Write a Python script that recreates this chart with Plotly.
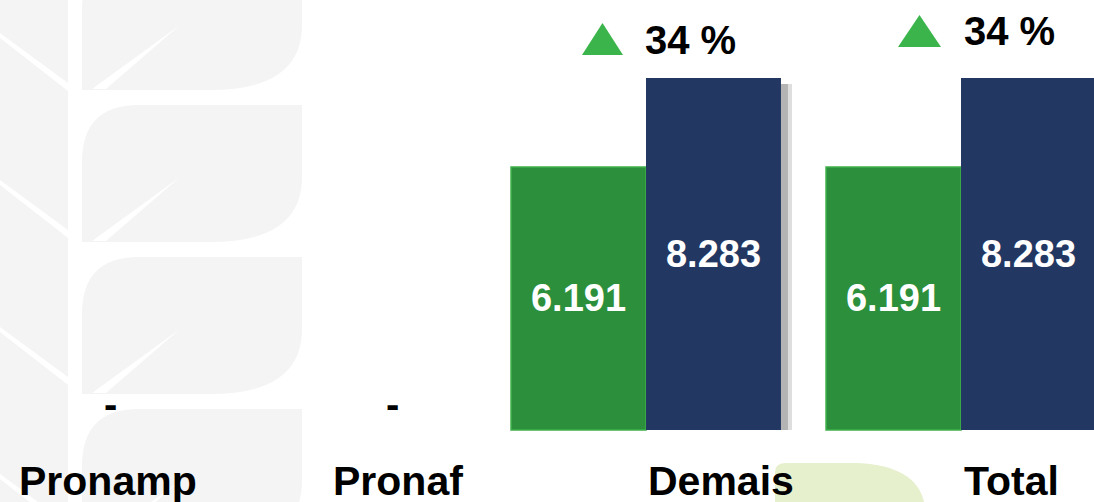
import plotly.graph_objects as go

# ---------------- data ----------------
categories = ["Pronamp", "Pronaf", "Demais", "Total"]
prev_values = [0, 0, 6191, 6191]      # green series
curr_values = [0, 0, 8283, 8283]      # navy series
growth_labels = ["", "", "34 %", "34 %"]
zero_label = "-"

# ---------------- style / layout constants ----------------
W, H = 1094, 502
GREEN = "#2c8f3b"
GREEN_EDGE = "#3fb04b"
NAVY = "#223863"
TRI_GREEN = "#3bb54b"
LEAF_GRAY = "#f4f4f4"
BLOB = "#e6f0cd"
FONT = "Liberation Sans, Arial, sans-serif"

X_RANGE = [-0.0508, 3.4222]
Y_RANGE = [-1694, 10118]
BARGAP = 0.143


def fmt(v):
    return f"{v:,}".replace(",", ".")


def pxx(x):
    return x / W


def pxy(y):
    return 1 - y / H


def path(points_cmds):
    out = []
    for c in points_cmds:
        if isinstance(c, str):
            out.append(c)
        else:
            out.append(f"{pxx(c[0]):.5f},{pxy(c[1]):.5f}")
    return " ".join(out)


fig = go.Figure()
fig.add_trace(go.Bar(
    x=categories, y=prev_values,
    text=[fmt(v) if v else "" for v in prev_values],
    textposition="inside", insidetextanchor="middle", textangle=0,
    textfont=dict(family=FONT, size=38, color="white", weight="bold"),
    marker=dict(color=GREEN, line=dict(color=GREEN_EDGE,
                                       width=[1.5 if v else 0 for v in prev_values])),
    constraintext="none", cliponaxis=False, hoverinfo="skip",
))
fig.add_trace(go.Bar(
    x=categories, y=curr_values,
    text=[fmt(v) if v else "" for v in curr_values],
    textposition="inside", insidetextanchor="middle", textangle=0,
    textfont=dict(family=FONT, size=38, color="white", weight="bold"),
    marker=dict(color=NAVY, line=dict(width=0)),
    constraintext="none", cliponaxis=False, hoverinfo="skip",
))

shapes = []
# background leaf motif (left)
shapes.append(dict(type="rect", xref="paper", yref="paper", x0=0, x1=pxx(68),
                   y0=0, y1=1, fillcolor=LEAF_GRAY, line=dict(width=0), layer="below"))
for k in range(4):
    t = -47 + 152 * k
    shapes.append(dict(type="path", xref="paper", yref="paper", layer="below",
                       fillcolor=LEAF_GRAY, line=dict(width=0),
                       path=path(["M", (82, t + 57), "Q", (82, t), (139, t), "L", (302, t),
                                  "L", (302, t + 72), "Q", (302, t + 137), (210, t + 137),
                                  "L", (82, t + 137), "Z"])))
    # vein of right leaf
    shapes.append(dict(type="path", xref="paper", yref="paper", layer="below",
                       fillcolor="white", line=dict(width=0),
                       path=path(["M", (92, t + 136), "L", (180, t + 72), "L", (106, t + 136), "Z"])))
    # vein of left leaf
    lt = 33 + 147 * k
    shapes.append(dict(type="path", xref="paper", yref="paper", layer="below",
                       fillcolor="white", line=dict(width=0),
                       path=path(["M", (0, lt), "L", (68, lt + 50), "L", (68, lt + 58), "L", (0, lt + 5), "Z"])))
# pale green blob near the bottom
shapes.append(dict(type="path", xref="paper", yref="paper", layer="below",
                   fillcolor=BLOB, line=dict(width=0),
                   path=path(["M", (775, 502), "L", (775, 472), "Q", (775, 463), (786, 463),
                              "L", (858, 463), "Q", (916, 466), (924, 502), "Z"])))

# bar shadow right of the navy bars
half = (1 - BARGAP) / 2
units_per_px = (Y_RANGE[1] - Y_RANGE[0]) / H
for i, v in enumerate(curr_values):
    if v:
        shapes.append(dict(type="rect", xref="x", yref="y", layer="below",
                           x0=i + half, x1=i + half + 7 / 315, y0=0, y1=v - 6 * units_per_px,
                           fillcolor="#b4b4b4", line=dict(width=0)))
        shapes.append(dict(type="rect", xref="x", yref="y", layer="below",
                           x0=i + half + 7 / 315, x1=i + half + 11 / 315, y0=0, y1=v - 6 * units_per_px,
                           fillcolor="#dedede", line=dict(width=0)))

annotations = []
# category labels (separate text boxes in the original)
label_px = [108, 398, 721, 1011]
for name, xp in zip(categories, label_px):
    annotations.append(dict(text=f"<b>{name}</b>", xref="paper", yref="paper",
                            x=pxx(xp), y=pxy(481), xanchor="center", yanchor="middle",
                            showarrow=False, font=dict(family=FONT, size=41, color="black")))
# dash labels for empty categories
dash_px = [110, 392]
for i, (a, b) in enumerate(zip(prev_values, curr_values)):
    if a == 0 and b == 0:
        annotations.append(dict(text=f"<b>{zero_label}</b>", xref="paper", yref="paper",
                                x=pxx(dash_px[i]), y=pxy(404), xanchor="center", yanchor="middle",
                                showarrow=False, font=dict(family=FONT, size=40, color="black")))
# growth markers
growth_pos = {2: (690.5, 39.5, (582, 623, 23, 55)), 3: (1009, 31, (898, 941, 15, 47))}
for i, lab in enumerate(growth_labels):
    if lab:
        tx, ty, (x0, x1, y0, y1) = growth_pos[i]
        annotations.append(dict(text=f"<b>{lab}</b>", xref="paper", yref="paper",
                                x=pxx(tx), y=pxy(ty), xanchor="center", yanchor="middle",
                                showarrow=False, font=dict(family=FONT, size=40, color="black")))
        shapes.append(dict(type="path", xref="paper", yref="paper", fillcolor=TRI_GREEN,
                           line=dict(width=0),
                           path=path(["M", (x0, y1), "L", (x1, y1), "L", ((x0 + x1) / 2, y0), "Z"])))

fig.update_layout(
    width=W, height=H, margin=dict(l=0, r=0, t=0, b=0),
    paper_bgcolor="white", plot_bgcolor="rgba(0,0,0,0)",
    barmode="group", bargap=BARGAP, bargroupgap=0,
    showlegend=False, shapes=shapes, annotations=annotations,
    xaxis=dict(range=X_RANGE, visible=False, fixedrange=True),
    yaxis=dict(range=Y_RANGE, visible=False, fixedrange=True),
)
fig.write_html("out.html", config=dict(displayModeBar=False),
               post_script="document.body.style.margin='0';document.body.style.overflow='hidden';")
